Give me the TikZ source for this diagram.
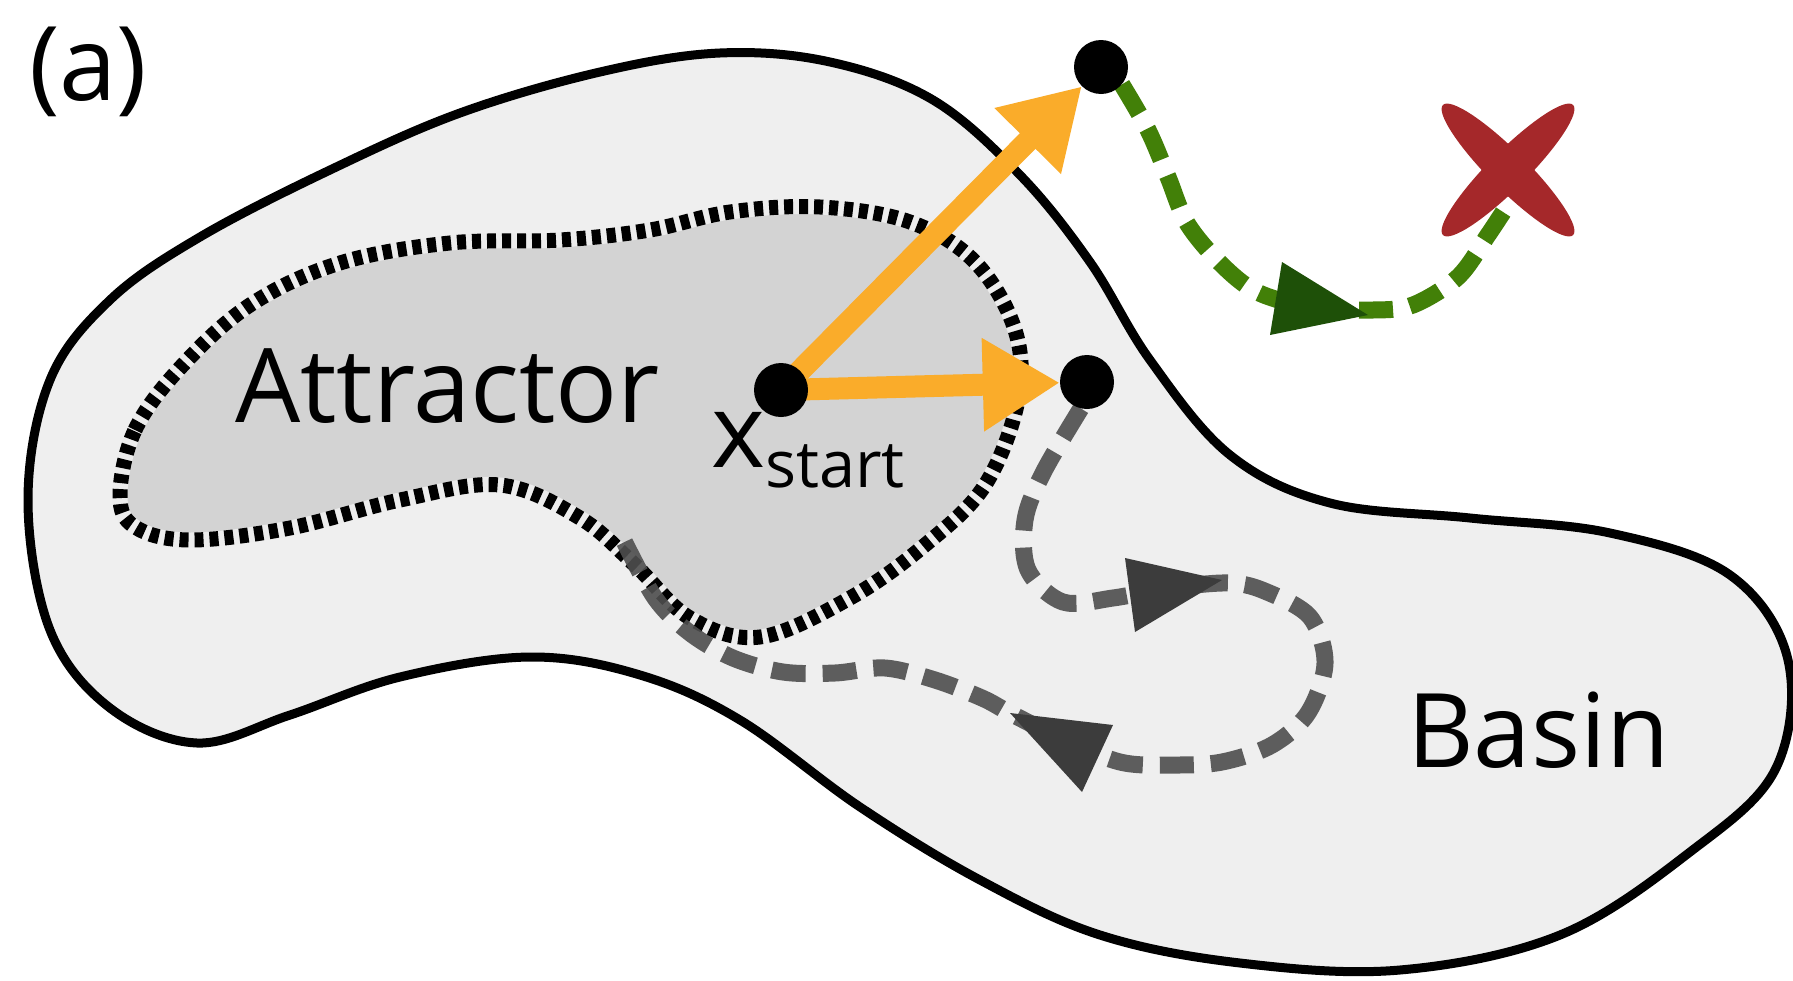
\documentclass[tikz,border=0pt]{standalone}
\usepackage{fontspec}
\setmainfont{Open Sans}
\usetikzlibrary{arrows.meta}
\pgfdeclarelayer{front}
\pgfsetlayers{main,front}

\definecolor{basinfill}{RGB}{239,239,239}
\definecolor{attrfill}{RGB}{211,211,211}
\definecolor{dotgap}{RGB}{236,236,236}
\definecolor{jumporange}{RGB}{250,172,42}
\definecolor{pathgray}{RGB}{78,78,78}
\definecolor{headgray}{RGB}{60,60,60}
\definecolor{pathgreen}{RGB}{66,128,8}
\definecolor{headgreen}{RGB}{30,80,8}
\definecolor{failred}{RGB}{165,40,42}

\begin{document}
\begin{tikzpicture}[x=1pt,y=-1pt,
  dot/.style={circle,fill=black,inner sep=0pt,minimum size=54pt},
  jump/.style={draw=jumporange,line width=22pt,-{Triangle[length=77pt,width=88pt]}},
  graypath/.style={draw=pathgray,line width=17pt,dash pattern=on 34pt off 17pt,opacity=.9},
  greenpath/.style={draw=pathgreen,line width=17pt,dash pattern=on 34pt off 17pt},
  txt/.style={inner sep=0pt,anchor=base west,font=\fontsize{103}{110}\selectfont}
]
\fill[white] (0,0) rectangle (1793,980);
\useasboundingbox (0,0) rectangle (1793,980);

% state points, kept above everything else
\begin{pgfonlayer}{front}
  \node[dot] (p0) at (781,390) {};
  \node[dot] (p1) at (1101,67) {};
  \node[dot] (p2) at (1087,382) {};
\end{pgfonlayer}

% basin of attraction
\filldraw[fill=basinfill,draw=black,line width=9pt,line join=round]
  plot[smooth cycle,tension=0.6] coordinates {
  (28,500) (50,380) (110,300) (200,237) (330,170) (460,113) (600,72) (720,53)
  (830,62) (933,100) (1020,175) (1090,262) (1150,360) (1230,455) (1330,503)
  (1470,518) (1610,533) (1730,575) (1788,660) (1775,770) (1690,852) (1560,935)
  (1400,970) (1240,963) (1100,935) (980,880) (860,807) (740,720) (640,675)
  (530,657) (400,677) (290,715) (197,743) (110,708) (50,630)};

% attractor with its dotted border
\def\attractorshape{plot[smooth cycle,tension=0.6] coordinates {
  (120,495) (135,430) (180,368) (250,305) (340,263) (450,243) (560,240)
  (650,230) (730,212) (820,207) (910,222) (975,262) (1015,330) (1018,400)
  (985,485) (925,545) (850,598) (760,637) (690,618) (635,565) (580,518)
  (500,485) (400,500) (290,528) (190,540) (135,527)}}
\fill[attrfill] \attractorshape;
\draw[dotgap,line width=15pt] \attractorshape;
\draw[black,line width=15pt,dash pattern=on 9pt off 6pt] \attractorshape;

% labels
\node[txt] (attr) at (235,422) {Attractor};
\node[txt] (xs) at (711,467) {x\raisebox{-20pt}{\fontsize{65}{70}\selectfont start}};
\node[txt] (basin) at (1407,767) {Basin};
\node[txt] (tag) at (29,100) {(a)};

% relaxation back to the attractor
\coordinate (back) at (622,537);
\draw[graypath] plot[smooth,tension=0.55] coordinates {
  (p2.-103) (1043,473) (1025,520) (1028,570) (1063,602) (1113,598) (1170,588)
  (1230,583) (1267,592) (1310,617) (1325,663) (1308,713) (1272,745) (1222,762)
  (1172,765) (1120,762) (1060,738) (1010,713) (982,698) (935,680) (885,668)
  (835,673) (783,672) (733,658) (690,633) (655,598) (back)};
\fill[headgray] (1222,580) -- (1125,558) -- (1135,632) -- cycle;
\fill[headgray] (1010,713) -- (1113,725) -- (1082,792) -- cycle;

% perturbations
\draw[jump] (p0.center) -- (p2);
\draw[jump] (p0.center) -- (p1);

% escape to the failure state
\coordinate (fail) at (1508,170);
\fill[failred] (fail) ellipse[x radius=92, y radius=19, rotate=45];
\fill[failred] (fail) ellipse[x radius=92, y radius=19, rotate=-45];
\coordinate (failend) at (1511,200);
\draw[greenpath] plot[smooth,tension=0.55] coordinates {
  (p1.-40) (1148,130) (1168,177) (1187,223) (1220,263) (1257,292) (1310,307)
  (1373,310) (1413,305) (1458,277) (1488,235) (failend)};
\fill[headgreen] (1368,315) -- (1282,262) -- (1270,335) -- cycle;
\end{tikzpicture}
\end{document}
